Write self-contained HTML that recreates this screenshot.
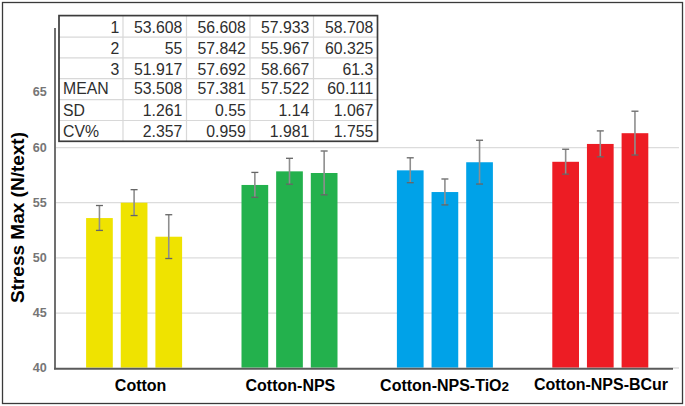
<!DOCTYPE html>
<html><head><meta charset="utf-8"><style>
html,body{margin:0;padding:0;background:#fff;}
body{width:685px;height:406px;overflow:hidden;}
svg{display:block;}
text{font-family:"Liberation Sans",sans-serif;}
.yt{font-size:12.6px;font-weight:bold;fill:#767676;}
.yttl{font-size:19px;font-weight:bold;fill:#000;}
.xl{font-size:16px;font-weight:bold;fill:#000;}
.tb{font-size:15.8px;fill:#2e2e2e;}
</style></head><body>
<svg width="685" height="406" viewBox="0 0 685 406">
<line x1="56" y1="313.03" x2="679" y2="313.03" stroke="#dcdcdc" stroke-width="1.2"/>
<line x1="56" y1="257.87" x2="679" y2="257.87" stroke="#dcdcdc" stroke-width="1.2"/>
<line x1="56" y1="202.70" x2="679" y2="202.70" stroke="#dcdcdc" stroke-width="1.2"/>
<line x1="56" y1="147.54" x2="679" y2="147.54" stroke="#dcdcdc" stroke-width="1.2"/>
<line x1="673" y1="368.0" x2="679" y2="368.0" stroke="#dadada" stroke-width="1.4"/>
<rect x="86.10" y="218.06" width="26.7" height="149.54" fill="#EFE300"/>
<rect x="120.75" y="202.70" width="26.7" height="164.90" fill="#EFE300"/>
<rect x="155.40" y="236.72" width="26.7" height="130.88" fill="#EFE300"/>
<rect x="241.50" y="184.96" width="26.7" height="182.64" fill="#23B14D"/>
<rect x="276.15" y="171.35" width="26.7" height="196.25" fill="#23B14D"/>
<rect x="310.80" y="173.00" width="26.7" height="194.60" fill="#23B14D"/>
<rect x="396.90" y="170.35" width="26.7" height="197.25" fill="#00A2E8"/>
<rect x="431.55" y="192.04" width="26.7" height="175.56" fill="#00A2E8"/>
<rect x="466.20" y="162.25" width="26.7" height="205.35" fill="#00A2E8"/>
<rect x="552.30" y="161.79" width="26.7" height="205.81" fill="#ED1C24"/>
<rect x="586.95" y="143.95" width="26.7" height="223.65" fill="#ED1C24"/>
<rect x="621.60" y="133.20" width="26.7" height="234.40" fill="#ED1C24"/>
<line x1="99.45" y1="205.71" x2="99.45" y2="230.41" stroke="#8e8e8e" stroke-width="1.6"/>
<line x1="95.95" y1="205.51" x2="102.95" y2="205.51" stroke="#666" stroke-width="1.3"/>
<line x1="95.95" y1="230.41" x2="102.95" y2="230.41" stroke="#666" stroke-width="1.3"/>
<line x1="134.10" y1="189.85" x2="134.10" y2="215.55" stroke="#8e8e8e" stroke-width="1.6"/>
<line x1="130.60" y1="189.66" x2="137.60" y2="189.66" stroke="#666" stroke-width="1.3"/>
<line x1="130.60" y1="215.55" x2="137.60" y2="215.55" stroke="#666" stroke-width="1.3"/>
<line x1="168.75" y1="214.92" x2="168.75" y2="258.52" stroke="#8e8e8e" stroke-width="1.6"/>
<line x1="165.25" y1="214.72" x2="172.25" y2="214.72" stroke="#666" stroke-width="1.3"/>
<line x1="165.25" y1="258.52" x2="172.25" y2="258.52" stroke="#666" stroke-width="1.3"/>
<line x1="254.85" y1="172.61" x2="254.85" y2="197.31" stroke="#8e8e8e" stroke-width="1.6"/>
<line x1="251.35" y1="172.41" x2="258.35" y2="172.41" stroke="#666" stroke-width="1.3"/>
<line x1="251.35" y1="197.31" x2="258.35" y2="197.31" stroke="#666" stroke-width="1.3"/>
<line x1="289.50" y1="158.50" x2="289.50" y2="184.20" stroke="#8e8e8e" stroke-width="1.6"/>
<line x1="286.00" y1="158.30" x2="293.00" y2="158.30" stroke="#666" stroke-width="1.3"/>
<line x1="286.00" y1="184.20" x2="293.00" y2="184.20" stroke="#666" stroke-width="1.3"/>
<line x1="324.15" y1="151.20" x2="324.15" y2="194.80" stroke="#8e8e8e" stroke-width="1.6"/>
<line x1="320.65" y1="151.00" x2="327.65" y2="151.00" stroke="#666" stroke-width="1.3"/>
<line x1="320.65" y1="194.80" x2="327.65" y2="194.80" stroke="#666" stroke-width="1.3"/>
<line x1="410.25" y1="158.00" x2="410.25" y2="182.70" stroke="#8e8e8e" stroke-width="1.6"/>
<line x1="406.75" y1="157.80" x2="413.75" y2="157.80" stroke="#666" stroke-width="1.3"/>
<line x1="406.75" y1="182.70" x2="413.75" y2="182.70" stroke="#666" stroke-width="1.3"/>
<line x1="444.90" y1="179.19" x2="444.90" y2="204.89" stroke="#8e8e8e" stroke-width="1.6"/>
<line x1="441.40" y1="178.99" x2="448.40" y2="178.99" stroke="#666" stroke-width="1.3"/>
<line x1="441.40" y1="204.89" x2="448.40" y2="204.89" stroke="#666" stroke-width="1.3"/>
<line x1="479.55" y1="140.45" x2="479.55" y2="184.05" stroke="#8e8e8e" stroke-width="1.6"/>
<line x1="476.05" y1="140.25" x2="483.05" y2="140.25" stroke="#666" stroke-width="1.3"/>
<line x1="476.05" y1="184.05" x2="483.05" y2="184.05" stroke="#666" stroke-width="1.3"/>
<line x1="565.65" y1="149.44" x2="565.65" y2="174.14" stroke="#8e8e8e" stroke-width="1.6"/>
<line x1="562.15" y1="149.24" x2="569.15" y2="149.24" stroke="#666" stroke-width="1.3"/>
<line x1="562.15" y1="174.14" x2="569.15" y2="174.14" stroke="#666" stroke-width="1.3"/>
<line x1="600.30" y1="131.10" x2="600.30" y2="156.80" stroke="#8e8e8e" stroke-width="1.6"/>
<line x1="596.80" y1="130.90" x2="603.80" y2="130.90" stroke="#666" stroke-width="1.3"/>
<line x1="596.80" y1="156.80" x2="603.80" y2="156.80" stroke="#666" stroke-width="1.3"/>
<line x1="634.95" y1="111.40" x2="634.95" y2="155.00" stroke="#8e8e8e" stroke-width="1.6"/>
<line x1="631.45" y1="111.20" x2="638.45" y2="111.20" stroke="#666" stroke-width="1.3"/>
<line x1="631.45" y1="155.00" x2="638.45" y2="155.00" stroke="#666" stroke-width="1.3"/>
<line x1="55" y1="28" x2="55" y2="369.2" stroke="#707070" stroke-width="2"/>
<line x1="54" y1="368.8" x2="673" y2="368.8" stroke="#5a5a5a" stroke-width="1.9"/>
<text x="46.7" y="372.30" text-anchor="end" class="yt">40</text>
<text x="46.7" y="317.13" text-anchor="end" class="yt">45</text>
<text x="46.7" y="261.97" text-anchor="end" class="yt">50</text>
<text x="46.7" y="206.80" text-anchor="end" class="yt">55</text>
<text x="46.7" y="151.64" text-anchor="end" class="yt">60</text>
<text x="46.7" y="96.47" text-anchor="end" class="yt">65</text>
<text transform="translate(24.2,217.5) rotate(-90)" text-anchor="middle" class="yttl">Stress Max (N/text)</text>
<text x="140.6" y="391.2" text-anchor="middle" class="xl">Cotton</text>
<text x="290.4" y="391.2" text-anchor="middle" class="xl">Cotton-NPS</text>
<text x="444.6" y="390.5" text-anchor="middle" class="xl">Cotton-NPS-TiO<tspan font-size="13.5">2</tspan></text>
<text x="601" y="389.9" text-anchor="middle" class="xl">Cotton-NPS-BCur</text>
<rect x="59.0" y="15.6" width="318.5" height="125.70000000000002" fill="#fff"/>
<line x1="59.0" y1="37.10" x2="377.5" y2="37.10" stroke="#d8d8d8" stroke-width="1.2"/>
<line x1="59.0" y1="57.90" x2="377.5" y2="57.90" stroke="#d8d8d8" stroke-width="1.2"/>
<line x1="59.0" y1="78.70" x2="377.5" y2="78.70" stroke="#d8d8d8" stroke-width="1.2"/>
<line x1="59.0" y1="99.60" x2="377.5" y2="99.60" stroke="#d8d8d8" stroke-width="1.2"/>
<line x1="59.0" y1="120.50" x2="377.5" y2="120.50" stroke="#d8d8d8" stroke-width="1.2"/>
<line x1="123" y1="15.6" x2="123" y2="141.30" stroke="#d8d8d8" stroke-width="1.2"/>
<line x1="186.5" y1="15.6" x2="186.5" y2="141.30" stroke="#d8d8d8" stroke-width="1.2"/>
<line x1="250" y1="15.6" x2="250" y2="141.30" stroke="#d8d8d8" stroke-width="1.2"/>
<line x1="313.5" y1="15.6" x2="313.5" y2="141.30" stroke="#d8d8d8" stroke-width="1.2"/>
<rect x="59.0" y="15.6" width="318.5" height="125.70" fill="none" stroke="#3c3c3c" stroke-width="1.7"/>
<text x="119.40" y="33.20" text-anchor="end" class="tb">1</text>
<text x="182.30" y="33.20" text-anchor="end" class="tb">53.608</text>
<text x="245.80" y="33.20" text-anchor="end" class="tb">56.608</text>
<text x="309.30" y="33.20" text-anchor="end" class="tb">57.933</text>
<text x="373.30" y="33.20" text-anchor="end" class="tb">58.708</text>
<text x="119.40" y="53.90" text-anchor="end" class="tb">2</text>
<text x="182.30" y="53.90" text-anchor="end" class="tb">55</text>
<text x="245.80" y="53.90" text-anchor="end" class="tb">57.842</text>
<text x="309.30" y="53.90" text-anchor="end" class="tb">55.967</text>
<text x="373.30" y="53.90" text-anchor="end" class="tb">60.325</text>
<text x="119.40" y="74.60" text-anchor="end" class="tb">3</text>
<text x="182.30" y="74.60" text-anchor="end" class="tb">51.917</text>
<text x="245.80" y="74.60" text-anchor="end" class="tb">57.692</text>
<text x="309.30" y="74.60" text-anchor="end" class="tb">58.667</text>
<text x="373.30" y="74.60" text-anchor="end" class="tb">61.3</text>
<text x="63" y="94.30" class="tb">MEAN</text>
<text x="182.30" y="94.30" text-anchor="end" class="tb">53.508</text>
<text x="245.80" y="94.30" text-anchor="end" class="tb">57.381</text>
<text x="309.30" y="94.30" text-anchor="end" class="tb">57.522</text>
<text x="373.30" y="94.30" text-anchor="end" class="tb">60.111</text>
<text x="63" y="116.00" class="tb">SD</text>
<text x="182.30" y="116.00" text-anchor="end" class="tb">1.261</text>
<text x="245.80" y="116.00" text-anchor="end" class="tb">0.55</text>
<text x="309.30" y="116.00" text-anchor="end" class="tb">1.14</text>
<text x="373.30" y="116.00" text-anchor="end" class="tb">1.067</text>
<text x="63" y="136.60" class="tb">CV%</text>
<text x="182.30" y="136.60" text-anchor="end" class="tb">2.357</text>
<text x="245.80" y="136.60" text-anchor="end" class="tb">0.959</text>
<text x="309.30" y="136.60" text-anchor="end" class="tb">1.981</text>
<text x="373.30" y="136.60" text-anchor="end" class="tb">1.755</text>
<rect x="2.5" y="2.5" width="680" height="401" fill="none" stroke="#3a3a3a" stroke-width="1.3"/>
</svg>
</body></html>
